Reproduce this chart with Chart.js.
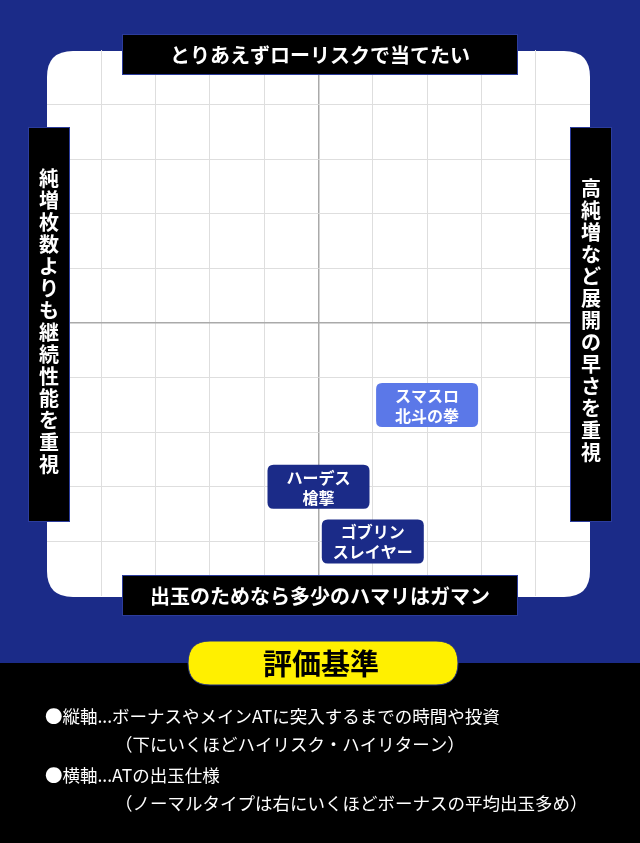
<!DOCTYPE html>
<html><head><meta charset="utf-8">
<script src="https://cdn.jsdelivr.net/npm/chart.js@4.4.1/dist/chart.umd.min.js"></script>
<style>html,body{margin:0;padding:0;background:#1b2b88;}#wrap{width:640px;height:843px;position:relative;}</style>
</head><body><div id="wrap"><canvas id="c" width="640" height="843"></canvas></div>
<script>
const pointNames = [['スマスロ','北斗の拳'], ['ハーデス','槍撃'], ['ゴブリン','スレイヤー']];
const xValues = [2, 0, 1];
const yValues = [-1.5, -3, -4];
const pointColors = ['#5b78e8', '#1b2b88', '#1b2b88'];
const axisTop = 'とりあえずローリスクで当てたい';
const axisBottom = '出玉のためなら多少のハマリはガマン';
const axisLeft = '純増枚数よりも継続性能を重視';
const axisRight = '高純増など展開の早さを重視';
const legendTitle = '評価基準';
const legendLines = [
  ['●縦軸...ボーナスやメインATに突入するまでの時間や投資', 45],
  ['（下にいくほどハイリスク・ハイリターン）', 115],
  ['●横軸...ATの出玉仕様', 45],
  ['（ノーマルタイプは右にいくほどボーナスの平均出玉多め）', 115]
];
const FONT = '"Noto Sans CJK JP","Noto Sans",sans-serif';

function rr(ctx,x,y,w,h,r){ctx.beginPath();ctx.moveTo(x+r,y);ctx.lineTo(x+w-r,y);ctx.quadraticCurveTo(x+w,y,x+w,y+r);ctx.lineTo(x+w,y+h-r);ctx.quadraticCurveTo(x+w,y+h,x+w-r,y+h);ctx.lineTo(x+r,y+h);ctx.quadraticCurveTo(x,y+h,x,y+h-r);ctx.lineTo(x,y+r);ctx.quadraticCurveTo(x,y,x+r,y);ctx.closePath();}

function labelBox(ctx,x,y,w,h){ctx.fillStyle='#000';ctx.fillRect(x,y,w,h);ctx.strokeStyle='#2c3c9c';ctx.lineWidth=1;ctx.strokeRect(x+0.5,y+0.5,w-1,h-1);}

const deco = {
  id:'deco',
  beforeDraw(chart){
    const ctx=chart.ctx;ctx.save();
    ctx.fillStyle='#1b2b88';ctx.fillRect(0,0,640,843);
    ctx.fillStyle='#fff';rr(ctx,47,51,543,546,26);ctx.fill();
    ctx.restore();
  },
  afterDatasetsDraw(chart){
    const ctx=chart.ctx;ctx.save();
    const meta=chart.getDatasetMeta(0);
    meta.data.forEach((pt,i)=>{
      const w=102,h=44;
      ctx.fillStyle=pointColors[i];rr(ctx,pt.x-w/2,pt.y-h/2,w,h,6);ctx.fill();
      ctx.fillStyle='#fff';ctx.font='bold 16px '+FONT;ctx.textAlign='center';ctx.textBaseline='middle';
      ctx.fillText(pointNames[i][0],pt.x,pt.y-9);
      ctx.fillText(pointNames[i][1],pt.x,pt.y+11);
    });
    ctx.textAlign='center';ctx.textBaseline='middle';
    labelBox(ctx,122,34,396,41);
    ctx.fillStyle='#fff';ctx.font='bold 20px '+FONT;ctx.fillText(axisTop,320,55);
    labelBox(ctx,122,575,396,41);
    ctx.fillStyle='#fff';ctx.fillText(axisBottom,320,596);
    labelBox(ctx,28,127,42,395);
    ctx.fillStyle='#fff';
    [...axisLeft].forEach((c,i)=>ctx.fillText(c,49,178+i*22));
    labelBox(ctx,570,127,42,395);
    ctx.fillStyle='#fff';
    [...axisRight].forEach((c,i)=>ctx.fillText(c,591,188+i*22));
    ctx.fillStyle='#000';ctx.fillRect(0,663,640,180);
    ctx.fillStyle='#fff000';rr(ctx,188,641,270,44,22);ctx.fill();
    ctx.strokeStyle='#1b2b88';ctx.lineWidth=1;ctx.stroke();
    ctx.fillStyle='#000';ctx.font='bold 29px '+FONT;ctx.fillText(legendTitle,321,664);
    ctx.fillStyle='#fff';ctx.font='17.5px '+FONT;ctx.textAlign='left';
    const ys=[716,744,775,803];
    legendLines.forEach((l,i)=>ctx.fillText(l[0],l[1],ys[i]));
    ctx.restore();
  }
};

const gridColor = c => c.tick.value===0 ? '#aaaaaa' : (Math.abs(c.tick.value)===5 ? 'rgba(0,0,0,0)' : '#dedede');
const gridWidth = c => c.tick.value===0 ? 1.5 : 1;

new Chart(document.getElementById('c'),{
  type:'scatter',
  data:{datasets:[{data:xValues.map((x,i)=>({x:x,y:yValues[i]})),pointRadius:0,pointHoverRadius:0}]},
  options:{
    responsive:false,animation:false,
    layout:{padding:{left:47,right:50,top:50,bottom:247}},
    plugins:{legend:{display:false},tooltip:{enabled:false}},
    scales:{
      x:{min:-5,max:5,ticks:{display:false,stepSize:1},border:{display:false},grid:{drawTicks:false,color:gridColor,lineWidth:gridWidth}},
      y:{min:-5,max:5,ticks:{display:false,stepSize:1},border:{display:false},grid:{drawTicks:false,color:gridColor,lineWidth:gridWidth}}
    }
  },
  plugins:[deco]
});
</script></body></html>
